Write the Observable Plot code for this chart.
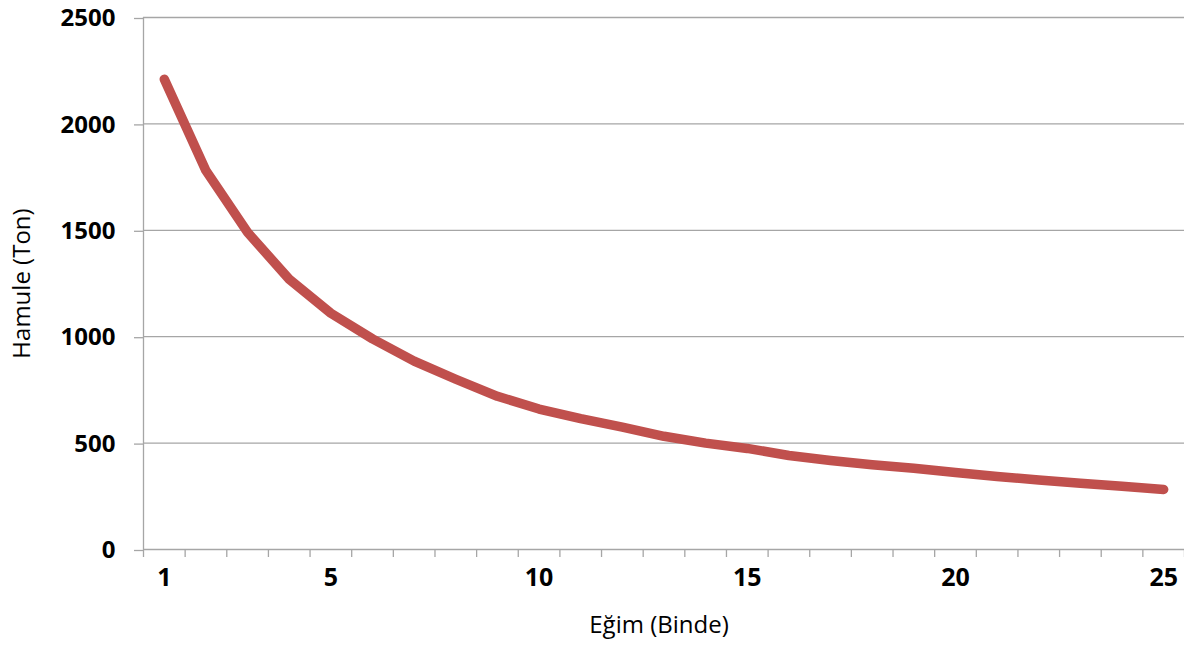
<!DOCTYPE html>
<html>
<head>
<meta charset="utf-8">
<script src="https://cdn.jsdelivr.net/npm/d3@7"></script>
<script src="https://cdn.jsdelivr.net/npm/@observablehq/plot@0.6"></script>
<style>
  html, body { margin: 0; padding: 0; background: #ffffff; }
  #chart svg { display: block; }
</style>
</head>
<body>
<div id="chart"></div>
<script>
// Data
const slopes = [1,2,3,4,5,6,7,8,9,10,11,12,13,14,15,16,17,18,19,20,21,22,23,24,25];
const loads  = [2210,1780,1490,1270,1110,990,885,800,720,660,615,575,532,500,475,442,418,398,382,362,343,327,311,297,282];
const xLabelTicks = [1,5,10,15,20,25];
const yTicks = [0,500,1000,1500,2000,2500];
const xTitle = "Eğim (Binde)";
const yTitle = "Hamule (Ton)";

const data = slopes.map((s, i) => ({slope: s, load: loads[i]}));
const boundaries = [slopes[0] - 0.5, ...slopes.map(s => s + 0.5)];

const gray = "#a6a6a6";
const chart = Plot.plot({
  width: 1184,
  height: 648,
  marginLeft: 143,
  marginRight: 0,
  marginTop: 17,
  marginBottom: 99,
  style: {fontFamily: "'Open Sans', sans-serif", background: "#ffffff", color: "#000"},
  x: {type: "linear", domain: [boundaries[0], boundaries[boundaries.length - 1]]},
  y: {domain: [0, 2500]},
  marks: [
    Plot.ruleY(yTicks, {stroke: gray, strokeWidth: 1.3}),
    Plot.ruleX([boundaries[0]], {stroke: gray, strokeWidth: 1.3}),
    Plot.axisY({ticks: yTicks, tickSize: 9, tickPadding: 19, stroke: gray, strokeWidth: 1.3,
      fontSize: 24, fontWeight: "bold", fill: "#000", label: null, dy: 1, tickFormat: d => String(d)}),
    Plot.axisX({ticks: boundaries, tickSize: 8, stroke: gray, strokeWidth: 1.3, tickFormat: () => "", label: null}),
    Plot.axisX({ticks: xLabelTicks, tickSize: 0, tickPadding: 19, fontSize: 25, fontWeight: "bold",
      fill: "#000", label: null, tickFormat: d => String(d)}),
    Plot.line(data, {x: "slope", y: "load", stroke: "#c0504d", strokeWidth: 9.5,
      strokeLinecap: "round", strokeLinejoin: "round"}),
    Plot.text([xTitle], {frameAnchor: "bottom", dx: -5, dy: 83, fontSize: 24, fill: "#000"}),
    Plot.text([yTitle], {frameAnchor: "left", textAnchor: "middle", dx: -121, rotate: -90, fontSize: 24, fill: "#000"})
  ]
});
document.getElementById("chart").appendChild(chart);
</script>
</body>
</html>
